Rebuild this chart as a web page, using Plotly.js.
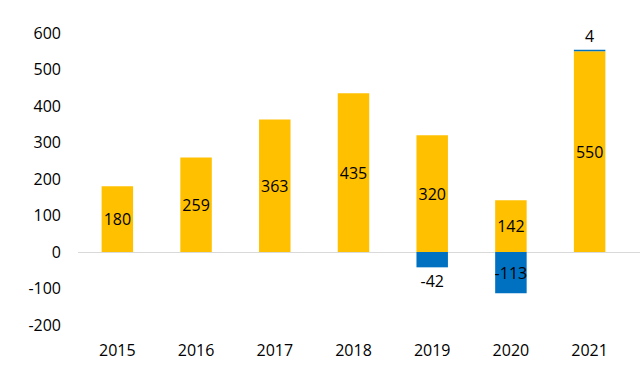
<!DOCTYPE html>
<html>
<head>
<meta charset="utf-8">
<script src="https://cdn.plot.ly/plotly-3.0.1.min.js"></script>
<style>html,body{margin:0;padding:0;background:#fff}#chart{width:640px;height:375px}</style>
</head>
<body>
<div id="chart"></div>
<script>
var years = ['2015','2016','2017','2018','2019','2020','2021'];
var mainValues = [180, 259, 363, 435, 320, 142, 550];
var changeValues = [null, null, null, null, -42, -113, 4];
var yTicks = [-200, -100, 0, 100, 200, 300, 400, 500, 600];

var fontFam = '"Open Sans", "Noto Sans", sans-serif';

var traceMain = {
  type: 'bar', x: years, y: mainValues,
  text: mainValues.map(String),
  textposition: 'inside', insidetextanchor: 'middle', textangle: 0,
  constraintext: 'none',
  insidetextfont: {color: '#000', size: 16, family: fontFam},
  marker: {color: '#FFC000'},
  hoverinfo: 'x+y'
};
var traceChange = {
  type: 'bar', x: years, y: changeValues,
  text: changeValues.map(function(v){return v === null ? '' : String(v);}),
  textposition: ['outside','outside','outside','outside','outside','inside','outside'],
  insidetextanchor: 'middle', textangle: 0,
  constraintext: 'none', cliponaxis: false,
  insidetextfont: {color: '#000', size: 16, family: fontFam},
  outsidetextfont: {color: '#000', size: 16, family: fontFam},
  marker: {color: '#0070C0'},
  hoverinfo: 'x+y'
};

var layout = {
  width: 640, height: 375,
  margin: {l: 78, r: 0, t: 33, b: 50},
  barmode: 'relative', bargap: 0.6,
  showlegend: false,
  paper_bgcolor: '#fff', plot_bgcolor: '#fff',
  font: {family: fontFam, size: 16, color: '#000'},
  xaxis: {
    type: 'category', range: [-0.5, 6.64],
    showgrid: false, showline: false, zeroline: false,
    ticks: '', ticklabelstandoff: 14,
    tickfont: {size: 16, color: '#000'}
  },
  yaxis: {
    range: [-200, 600], tickvals: yTicks, ticktext: yTicks.map(String),
    showgrid: false, showline: false,
    zeroline: true, zerolinecolor: '#d9d9d9', zerolinewidth: 1,
    ticks: '', ticklabelstandoff: 16,
    tickfont: {size: 16, color: '#000'}
  }
};

Plotly.newPlot('chart', [traceMain, traceChange], layout, {displayModeBar: false, staticPlot: true});
</script>
</body>
</html>
